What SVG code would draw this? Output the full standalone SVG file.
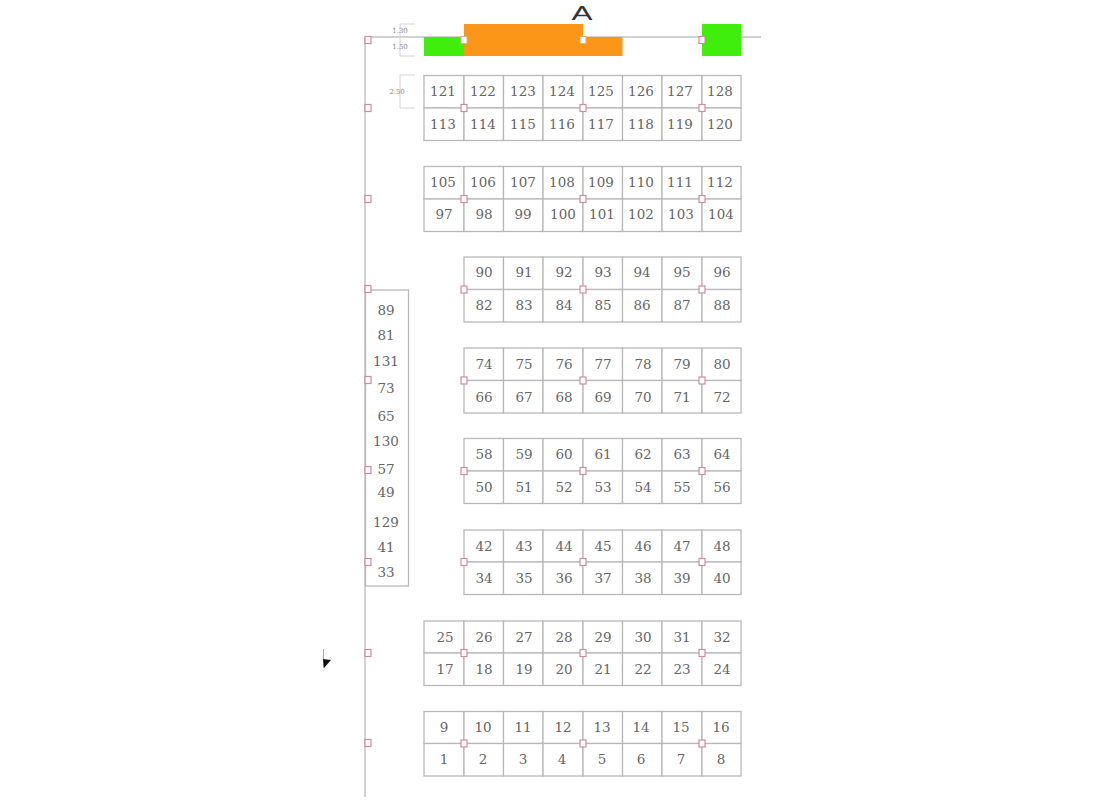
<svg xmlns="http://www.w3.org/2000/svg" width="1100" height="800" viewBox="0 0 1100 800">
<style>
.c rect,.side{fill:#fff;stroke:#b8b8b8;stroke-width:1.3}
text{font-family:"DejaVu Serif","Liberation Serif",serif;font-size:13.5px;fill:#666;text-anchor:middle}
.l{fill:none;stroke:#c4c4c4;stroke-width:1.5}
.d{fill:none;stroke:#d4d4d4;stroke-width:1}
.dt{font-size:7px;fill:#888}
.p{fill:#fff;stroke:#d28aa0;stroke-width:1.2}
.w{fill:#fff;stroke:#e0b090;stroke-width:1}
.g{fill:#3fee0c}
.o{fill:#fb9618}
</style>
<defs>
<rect id="m" class="p" x="-3" y="-3.5" width="6" height="7"/>
<rect id="mw" class="w" x="-3" y="-3.5" width="6" height="7"/>
</defs>
<g id="connectors">
<path class="l" d="M365 37V797M365 37H761"/>
<path class="d" d="M400 24H415M400 37H415M400 56H415M400 24V56M400 75H415M400 108H415M400 75V108"/>
<path d="M323.500 649V668" fill="none" stroke="#aaa" stroke-width="1"/>
<polygon points="323,659 331,660 324,668" fill="#111"/>
</g>
<text class="dt" x="400" y="33">1.30</text>
<text class="dt" x="400" y="49">1.50</text>
<text class="dt" x="397" y="94">2.50</text>
<text x="582" y="20" style="font-family:'Liberation Sans',sans-serif;font-size:20px;fill:#333" textLength="21" lengthAdjust="spacingAndGlyphs">A</text>
<g id="green-left"><rect class="g" x="424" y="37" width="40" height="19"/></g>
<g id="orange"><polygon class="o" points="464,24 583,24 583,37 622.500,37 622.500,56 464,56"/></g>
<g id="green-right"><rect class="g" x="702" y="24" width="39" height="32"/></g>

<g id="row1">
<g class="c" id="n121"><rect x="424" y="75.500" width="40" height="32.500"/><text x="443" y="96">121</text></g>
<g class="c" id="n122"><rect x="464" y="75.500" width="39.500" height="32.500"/><text x="483" y="96">122</text></g>
<g class="c" id="n123"><rect x="503.500" y="75.500" width="39.500" height="32.500"/><text x="523" y="96">123</text></g>
<g class="c" id="n124"><rect x="543" y="75.500" width="40" height="32.500"/><text x="562" y="96">124</text></g>
<g class="c" id="n125"><rect x="583" y="75.500" width="39.500" height="32.500"/><text x="601" y="96">125</text></g>
<g class="c" id="n126"><rect x="622.500" y="75.500" width="39.500" height="32.500"/><text x="641" y="96">126</text></g>
<g class="c" id="n127"><rect x="662" y="75.500" width="40" height="32.500"/><text x="680" y="96">127</text></g>
<g class="c" id="n128"><rect x="702" y="75.500" width="39" height="32.500"/><text x="720" y="96">128</text></g>
<g class="c" id="n113"><rect x="424" y="108" width="40" height="32.500"/><text x="443" y="129">113</text></g>
<g class="c" id="n114"><rect x="464" y="108" width="39.500" height="32.500"/><text x="483" y="129">114</text></g>
<g class="c" id="n115"><rect x="503.500" y="108" width="39.500" height="32.500"/><text x="523" y="129">115</text></g>
<g class="c" id="n116"><rect x="543" y="108" width="40" height="32.500"/><text x="562" y="129">116</text></g>
<g class="c" id="n117"><rect x="583" y="108" width="39.500" height="32.500"/><text x="601" y="129">117</text></g>
<g class="c" id="n118"><rect x="622.500" y="108" width="39.500" height="32.500"/><text x="641" y="129">118</text></g>
<g class="c" id="n119"><rect x="662" y="108" width="40" height="32.500"/><text x="680" y="129">119</text></g>
<g class="c" id="n120"><rect x="702" y="108" width="39" height="32.500"/><text x="720" y="129">120</text></g>
</g>
<g id="row2">
<g class="c" id="n105"><rect x="424" y="166.500" width="40" height="32.500"/><text x="443" y="187">105</text></g>
<g class="c" id="n106"><rect x="464" y="166.500" width="39.500" height="32.500"/><text x="483" y="187">106</text></g>
<g class="c" id="n107"><rect x="503.500" y="166.500" width="39.500" height="32.500"/><text x="523" y="187">107</text></g>
<g class="c" id="n108"><rect x="543" y="166.500" width="40" height="32.500"/><text x="562" y="187">108</text></g>
<g class="c" id="n109"><rect x="583" y="166.500" width="39.500" height="32.500"/><text x="601" y="187">109</text></g>
<g class="c" id="n110"><rect x="622.500" y="166.500" width="39.500" height="32.500"/><text x="641" y="187">110</text></g>
<g class="c" id="n111"><rect x="662" y="166.500" width="40" height="32.500"/><text x="680" y="187">111</text></g>
<g class="c" id="n112"><rect x="702" y="166.500" width="39" height="32.500"/><text x="720" y="187">112</text></g>
<g class="c" id="n97"><rect x="424" y="199" width="40" height="32.500"/><text x="444" y="219">97</text></g>
<g class="c" id="n98"><rect x="464" y="199" width="39.500" height="32.500"/><text x="484" y="219">98</text></g>
<g class="c" id="n99"><rect x="503.500" y="199" width="39.500" height="32.500"/><text x="523" y="219">99</text></g>
<g class="c" id="n100"><rect x="543" y="199" width="40" height="32.500"/><text x="563" y="219">100</text></g>
<g class="c" id="n101"><rect x="583" y="199" width="39.500" height="32.500"/><text x="602" y="219">101</text></g>
<g class="c" id="n102"><rect x="622.500" y="199" width="39.500" height="32.500"/><text x="641" y="219">102</text></g>
<g class="c" id="n103"><rect x="662" y="199" width="40" height="32.500"/><text x="681" y="219">103</text></g>
<g class="c" id="n104"><rect x="702" y="199" width="39" height="32.500"/><text x="721" y="219">104</text></g>
</g>
<g id="row3">
<g class="c" id="n90"><rect x="464" y="257" width="39.500" height="32.500"/><text x="484" y="277">90</text></g>
<g class="c" id="n91"><rect x="503.500" y="257" width="39.500" height="32.500"/><text x="524" y="277">91</text></g>
<g class="c" id="n92"><rect x="543" y="257" width="40" height="32.500"/><text x="564" y="277">92</text></g>
<g class="c" id="n93"><rect x="583" y="257" width="39.500" height="32.500"/><text x="603" y="277">93</text></g>
<g class="c" id="n94"><rect x="622.500" y="257" width="39.500" height="32.500"/><text x="642" y="277">94</text></g>
<g class="c" id="n95"><rect x="662" y="257" width="40" height="32.500"/><text x="682" y="277">95</text></g>
<g class="c" id="n96"><rect x="702" y="257" width="39" height="32.500"/><text x="722" y="277">96</text></g>
<g class="c" id="n82"><rect x="464" y="289.500" width="39.500" height="32.500"/><text x="484" y="310">82</text></g>
<g class="c" id="n83"><rect x="503.500" y="289.500" width="39.500" height="32.500"/><text x="524" y="310">83</text></g>
<g class="c" id="n84"><rect x="543" y="289.500" width="40" height="32.500"/><text x="564" y="310">84</text></g>
<g class="c" id="n85"><rect x="583" y="289.500" width="39.500" height="32.500"/><text x="603" y="310">85</text></g>
<g class="c" id="n86"><rect x="622.500" y="289.500" width="39.500" height="32.500"/><text x="642" y="310">86</text></g>
<g class="c" id="n87"><rect x="662" y="289.500" width="40" height="32.500"/><text x="682" y="310">87</text></g>
<g class="c" id="n88"><rect x="702" y="289.500" width="39" height="32.500"/><text x="722" y="310">88</text></g>
</g>
<g id="row4">
<g class="c" id="n74"><rect x="464" y="348" width="39.500" height="32.500"/><text x="484" y="369">74</text></g>
<g class="c" id="n75"><rect x="503.500" y="348" width="39.500" height="32.500"/><text x="524" y="369">75</text></g>
<g class="c" id="n76"><rect x="543" y="348" width="40" height="32.500"/><text x="564" y="369">76</text></g>
<g class="c" id="n77"><rect x="583" y="348" width="39.500" height="32.500"/><text x="603" y="369">77</text></g>
<g class="c" id="n78"><rect x="622.500" y="348" width="39.500" height="32.500"/><text x="643" y="369">78</text></g>
<g class="c" id="n79"><rect x="662" y="348" width="40" height="32.500"/><text x="682" y="369">79</text></g>
<g class="c" id="n80"><rect x="702" y="348" width="39" height="32.500"/><text x="722" y="369">80</text></g>
<g class="c" id="n66"><rect x="464" y="380.500" width="39.500" height="32.500"/><text x="484" y="402">66</text></g>
<g class="c" id="n67"><rect x="503.500" y="380.500" width="39.500" height="32.500"/><text x="524" y="402">67</text></g>
<g class="c" id="n68"><rect x="543" y="380.500" width="40" height="32.500"/><text x="564" y="402">68</text></g>
<g class="c" id="n69"><rect x="583" y="380.500" width="39.500" height="32.500"/><text x="603" y="402">69</text></g>
<g class="c" id="n70"><rect x="622.500" y="380.500" width="39.500" height="32.500"/><text x="643" y="402">70</text></g>
<g class="c" id="n71"><rect x="662" y="380.500" width="40" height="32.500"/><text x="682" y="402">71</text></g>
<g class="c" id="n72"><rect x="702" y="380.500" width="39" height="32.500"/><text x="722" y="402">72</text></g>
</g>
<g id="row5">
<g class="c" id="n58"><rect x="464" y="438.500" width="39.500" height="32.500"/><text x="484" y="459">58</text></g>
<g class="c" id="n59"><rect x="503.500" y="438.500" width="39.500" height="32.500"/><text x="524" y="459">59</text></g>
<g class="c" id="n60"><rect x="543" y="438.500" width="40" height="32.500"/><text x="564" y="459">60</text></g>
<g class="c" id="n61"><rect x="583" y="438.500" width="39.500" height="32.500"/><text x="603" y="459">61</text></g>
<g class="c" id="n62"><rect x="622.500" y="438.500" width="39.500" height="32.500"/><text x="643" y="459">62</text></g>
<g class="c" id="n63"><rect x="662" y="438.500" width="40" height="32.500"/><text x="682" y="459">63</text></g>
<g class="c" id="n64"><rect x="702" y="438.500" width="39" height="32.500"/><text x="722" y="459">64</text></g>
<g class="c" id="n50"><rect x="464" y="471" width="39.500" height="32.500"/><text x="484" y="492">50</text></g>
<g class="c" id="n51"><rect x="503.500" y="471" width="39.500" height="32.500"/><text x="524" y="492">51</text></g>
<g class="c" id="n52"><rect x="543" y="471" width="40" height="32.500"/><text x="564" y="492">52</text></g>
<g class="c" id="n53"><rect x="583" y="471" width="39.500" height="32.500"/><text x="603" y="492">53</text></g>
<g class="c" id="n54"><rect x="622.500" y="471" width="39.500" height="32.500"/><text x="643" y="492">54</text></g>
<g class="c" id="n55"><rect x="662" y="471" width="40" height="32.500"/><text x="682" y="492">55</text></g>
<g class="c" id="n56"><rect x="702" y="471" width="39" height="32.500"/><text x="722" y="492">56</text></g>
</g>
<g id="row6">
<g class="c" id="n42"><rect x="464" y="530" width="39.500" height="32"/><text x="484" y="551">42</text></g>
<g class="c" id="n43"><rect x="503.500" y="530" width="39.500" height="32"/><text x="524" y="551">43</text></g>
<g class="c" id="n44"><rect x="543" y="530" width="40" height="32"/><text x="564" y="551">44</text></g>
<g class="c" id="n45"><rect x="583" y="530" width="39.500" height="32"/><text x="603" y="551">45</text></g>
<g class="c" id="n46"><rect x="622.500" y="530" width="39.500" height="32"/><text x="643" y="551">46</text></g>
<g class="c" id="n47"><rect x="662" y="530" width="40" height="32"/><text x="682" y="551">47</text></g>
<g class="c" id="n48"><rect x="702" y="530" width="39" height="32"/><text x="722" y="551">48</text></g>
<g class="c" id="n34"><rect x="464" y="562" width="39.500" height="32.500"/><text x="484" y="583">34</text></g>
<g class="c" id="n35"><rect x="503.500" y="562" width="39.500" height="32.500"/><text x="524" y="583">35</text></g>
<g class="c" id="n36"><rect x="543" y="562" width="40" height="32.500"/><text x="564" y="583">36</text></g>
<g class="c" id="n37"><rect x="583" y="562" width="39.500" height="32.500"/><text x="603" y="583">37</text></g>
<g class="c" id="n38"><rect x="622.500" y="562" width="39.500" height="32.500"/><text x="643" y="583">38</text></g>
<g class="c" id="n39"><rect x="662" y="562" width="40" height="32.500"/><text x="682" y="583">39</text></g>
<g class="c" id="n40"><rect x="702" y="562" width="39" height="32.500"/><text x="722" y="583">40</text></g>
</g>
<g id="row7">
<g class="c" id="n25"><rect x="424" y="621" width="40" height="32"/><text x="445" y="642">25</text></g>
<g class="c" id="n26"><rect x="464" y="621" width="39.500" height="32"/><text x="484" y="642">26</text></g>
<g class="c" id="n27"><rect x="503.500" y="621" width="39.500" height="32"/><text x="524" y="642">27</text></g>
<g class="c" id="n28"><rect x="543" y="621" width="40" height="32"/><text x="564" y="642">28</text></g>
<g class="c" id="n29"><rect x="583" y="621" width="39.500" height="32"/><text x="603" y="642">29</text></g>
<g class="c" id="n30"><rect x="622.500" y="621" width="39.500" height="32"/><text x="643" y="642">30</text></g>
<g class="c" id="n31"><rect x="662" y="621" width="40" height="32"/><text x="682" y="642">31</text></g>
<g class="c" id="n32"><rect x="702" y="621" width="39" height="32"/><text x="722" y="642">32</text></g>
<g class="c" id="n17"><rect x="424" y="653" width="40" height="32.500"/><text x="445" y="674">17</text></g>
<g class="c" id="n18"><rect x="464" y="653" width="39.500" height="32.500"/><text x="484" y="674">18</text></g>
<g class="c" id="n19"><rect x="503.500" y="653" width="39.500" height="32.500"/><text x="524" y="674">19</text></g>
<g class="c" id="n20"><rect x="543" y="653" width="40" height="32.500"/><text x="564" y="674">20</text></g>
<g class="c" id="n21"><rect x="583" y="653" width="39.500" height="32.500"/><text x="603" y="674">21</text></g>
<g class="c" id="n22"><rect x="622.500" y="653" width="39.500" height="32.500"/><text x="643" y="674">22</text></g>
<g class="c" id="n23"><rect x="662" y="653" width="40" height="32.500"/><text x="682" y="674">23</text></g>
<g class="c" id="n24"><rect x="702" y="653" width="39" height="32.500"/><text x="722" y="674">24</text></g>
</g>
<g id="row8">
<g class="c" id="n9"><rect x="424" y="711.500" width="40" height="32"/><text x="444" y="732">9</text></g>
<g class="c" id="n10"><rect x="464" y="711.500" width="39.500" height="32"/><text x="483" y="732">10</text></g>
<g class="c" id="n11"><rect x="503.500" y="711.500" width="39.500" height="32"/><text x="523" y="732">11</text></g>
<g class="c" id="n12"><rect x="543" y="711.500" width="40" height="32"/><text x="563" y="732">12</text></g>
<g class="c" id="n13"><rect x="583" y="711.500" width="39.500" height="32"/><text x="602" y="732">13</text></g>
<g class="c" id="n14"><rect x="622.500" y="711.500" width="39.500" height="32"/><text x="641" y="732">14</text></g>
<g class="c" id="n15"><rect x="662" y="711.500" width="40" height="32"/><text x="681" y="732">15</text></g>
<g class="c" id="n16"><rect x="702" y="711.500" width="39" height="32"/><text x="721" y="732">16</text></g>
<g class="c" id="n1"><rect x="424" y="743.500" width="40" height="32.500"/><text x="444" y="764">1</text></g>
<g class="c" id="n2"><rect x="464" y="743.500" width="39.500" height="32.500"/><text x="483" y="764">2</text></g>
<g class="c" id="n3"><rect x="503.500" y="743.500" width="39.500" height="32.500"/><text x="523" y="764">3</text></g>
<g class="c" id="n4"><rect x="543" y="743.500" width="40" height="32.500"/><text x="562" y="764">4</text></g>
<g class="c" id="n5"><rect x="583" y="743.500" width="39.500" height="32.500"/><text x="602" y="764">5</text></g>
<g class="c" id="n6"><rect x="622.500" y="743.500" width="39.500" height="32.500"/><text x="641" y="764">6</text></g>
<g class="c" id="n7"><rect x="662" y="743.500" width="40" height="32.500"/><text x="681" y="764">7</text></g>
<g class="c" id="n8"><rect x="702" y="743.500" width="39" height="32.500"/><text x="721" y="764">8</text></g>
</g>
<g id="side-column">
<rect class="side" x="365.500" y="290" width="43" height="296"/>
<text x="386" y="315">89</text>
<text x="386" y="340">81</text>
<text x="386" y="366">131</text>
<text x="386" y="393">73</text>
<text x="386" y="421">65</text>
<text x="386" y="446">130</text>
<text x="386" y="474">57</text>
<text x="386" y="497">49</text>
<text x="386" y="527">129</text>
<text x="386" y="552">41</text>
<text x="386" y="577">33</text>
</g>
<g id="markers">
<use href="#m" x="368" y="40"/><use href="#m" x="368" y="108"/><use href="#m" x="368" y="199"/><use href="#m" x="368" y="289"/><use href="#m" x="368" y="380"/><use href="#m" x="368" y="470"/><use href="#m" x="368" y="562"/><use href="#m" x="368" y="653"/><use href="#m" x="368" y="743"/>
<use href="#mw" x="464" y="40"/><use href="#mw" x="583" y="40"/><use href="#m" x="702" y="40"/>
<use href="#m" x="464" y="108"/><use href="#m" x="583" y="108"/><use href="#m" x="702" y="108"/>
<use href="#m" x="464" y="199"/><use href="#m" x="583" y="199"/><use href="#m" x="702" y="199"/>
<use href="#m" x="464" y="289.500"/><use href="#m" x="583" y="289.500"/><use href="#m" x="702" y="289.500"/>
<use href="#m" x="464" y="380.500"/><use href="#m" x="583" y="380.500"/><use href="#m" x="702" y="380.500"/>
<use href="#m" x="464" y="471"/><use href="#m" x="583" y="471"/><use href="#m" x="702" y="471"/>
<use href="#m" x="464" y="562"/><use href="#m" x="583" y="562"/><use href="#m" x="702" y="562"/>
<use href="#m" x="464" y="653"/><use href="#m" x="583" y="653"/><use href="#m" x="702" y="653"/>
<use href="#m" x="464" y="743.500"/><use href="#m" x="583" y="743.500"/><use href="#m" x="702" y="743.500"/>
</g>
</svg>
